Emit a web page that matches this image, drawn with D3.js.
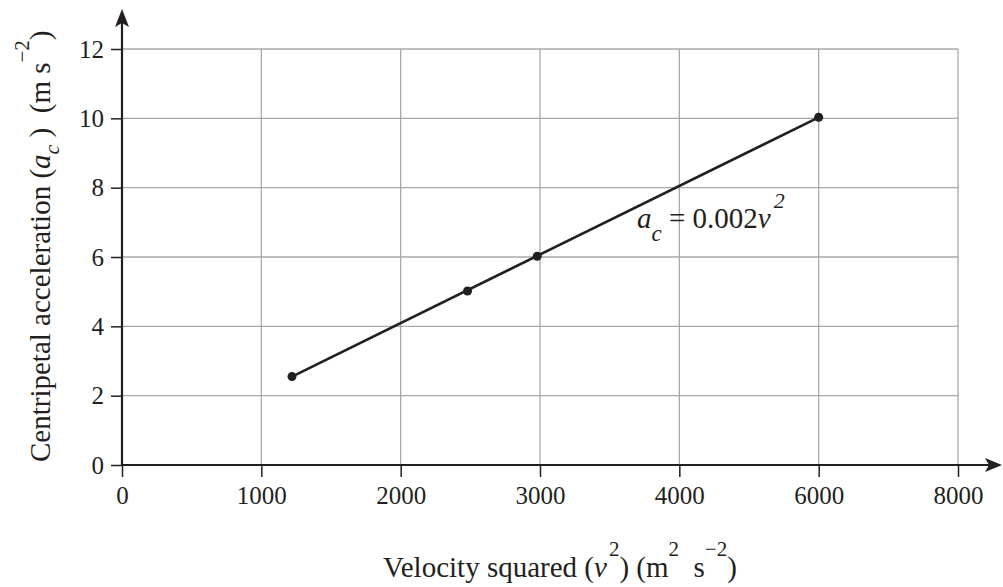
<!DOCTYPE html>
<html>
<head>
<meta charset="utf-8">
<script src="https://cdn.jsdelivr.net/npm/d3@7"></script>
<style>
  body { margin: 0; background: #fff; }
  text { font-family: "Liberation Serif", "DejaVu Serif", serif; fill: #231f20; }
</style>
</head>
<body>
<div id="chart"></div>
<script>
// values
var xTickValues = [0, 1000, 2000, 3000, 4000, 5000, 6000];
var xTickLabels = ['0', '1000', '2000', '3000', '4000', '6000', '8000'];
var yTickValues = [0, 2, 4, 6, 8, 10, 12];
var velSq = [1220, 2480, 2980, 5000];
var accel = [2.55, 5.02, 6.02, 10.03];

var width = 1003, height = 587;
var x0 = 122, x1 = 958, y0 = 465, y1 = 49;

var svg = d3.select('#chart').append('svg')
    .attr('width', width)
    .attr('height', height);

var x = d3.scaleLinear().domain([0, 6000]).range([x0, x1]);
var y = d3.scaleLinear().domain([0, 12]).range([y0, y1]);

var grid = svg.append('g');
grid.selectAll('line.v')
    .data(xTickValues.slice(1))
    .join('line')
    .attr('x1', function(d) { return x(d); })
    .attr('x2', function(d) { return x(d); })
    .attr('y1', y0).attr('y2', y1)
    .attr('stroke', '#a7a9ac').attr('stroke-width', 1.3);
grid.selectAll('line.h')
    .data(yTickValues.slice(1))
    .join('line')
    .attr('y1', function(d) { return y(d); })
    .attr('y2', function(d) { return y(d); })
    .attr('x1', x0).attr('x2', x1)
    .attr('stroke', '#a7a9ac').attr('stroke-width', 1.3);

var xAxis = svg.append('g')
    .attr('transform', 'translate(0,' + y0 + ')')
    .call(d3.axisBottom(x).tickValues(xTickValues)
        .tickFormat(function(d, i) { return xTickLabels[i]; })
        .tickSize(12).tickPadding(9))
    .attr('font-size', 25);
xAxis.select('.domain').remove();
xAxis.selectAll('line').attr('stroke', '#231f20').attr('stroke-width', 1.5);
xAxis.selectAll('text').style('font-size', '25px');

var yAxis = svg.append('g')
    .attr('transform', 'translate(' + x0 + ',0)')
    .call(d3.axisLeft(y).tickValues(yTickValues).tickSize(11).tickPadding(7))
    .attr('font-size', 25);
yAxis.select('.domain').remove();
yAxis.selectAll('line').attr('stroke', '#231f20').attr('stroke-width', 1.5);
yAxis.selectAll('text').style('font-size', '25px');

// axis lines with arrowheads
svg.append('line').attr('x1', x0).attr('x2', 990).attr('y1', y0).attr('y2', y0)
    .attr('stroke', '#231f20').attr('stroke-width', 2.2);
svg.append('path').attr('d', 'M1002,' + y0 + 'L985,' + (y0 - 7) + 'L989,' + y0 + 'L985,' + (y0 + 7) + 'Z')
    .attr('fill', '#231f20');
svg.append('line').attr('x1', x0).attr('x2', x0).attr('y1', y0).attr('y2', 22)
    .attr('stroke', '#231f20').attr('stroke-width', 2.2);
svg.append('path').attr('d', 'M' + x0 + ',9L' + (x0 - 7) + ',27L' + x0 + ',23L' + (x0 + 7) + ',27Z')
    .attr('fill', '#231f20');

var pts = velSq.map(function(v, i) { return [v, accel[i]]; });
var line = d3.line().x(function(d) { return x(d[0]); }).y(function(d) { return y(d[1]); });
svg.append('path').datum([pts[0], pts[pts.length - 1]])
    .attr('d', line)
    .attr('fill', 'none').attr('stroke', '#231f20').attr('stroke-width', 2.6);
svg.selectAll('circle.pt').data(pts).join('circle')
    .attr('cx', function(d) { return x(d[0]); })
    .attr('cy', function(d) { return y(d[1]); })
    .attr('r', 4.5).attr('fill', '#231f20');

// equation label
var eq = svg.append('text').attr('x', 637).attr('y', 228).style('font-size', '29px');
eq.append('tspan').attr('font-style', 'italic').text('a');
eq.append('tspan').attr('font-style', 'italic').style('font-size', '23px').attr('dy', 13).text('c');
eq.append('tspan').attr('dy', -13).text(' = 0.002');
eq.append('tspan').attr('font-style', 'italic').text('v');
eq.append('tspan').attr('font-style', 'italic').style('font-size', '22px').attr('dy', -20).attr('dx', 3).text('2');

// x axis title
var xt = svg.append('text').attr('x', 383).attr('y', 577).style('font-size', '29px');
xt.append('tspan').text('Velocity squared (');
xt.append('tspan').attr('font-style', 'italic').text('v');
xt.append('tspan').style('font-size', '21px').attr('dy', -21).attr('dx', 2).text('2');
xt.append('tspan').attr('dy', 21).text(') (m');
xt.append('tspan').style('font-size', '21px').attr('dy', -21).text('2');
xt.append('tspan').attr('dy', 21).text('\u00a0 s');
xt.append('tspan').style('font-size', '21px').attr('dy', -21).text('\u22122');
xt.append('tspan').attr('dy', 21).text(')');

// y axis title
var yt = svg.append('text').attr('transform', 'translate(50,462) rotate(-90)').style('font-size', '29px');
yt.append('tspan').text('Centripetal acceleration (');
yt.append('tspan').attr('font-style', 'italic').text('a');
yt.append('tspan').attr('font-style', 'italic').style('font-size', '22px').attr('dy', 9).text('c');
yt.append('tspan').attr('dy', -9).text('\u00a0) \u00a0(m s');
yt.append('tspan').style('font-size', '21px').attr('dy', -21).text('\u22122');
yt.append('tspan').attr('dy', 21).text(')');
</script>
</body>
</html>
